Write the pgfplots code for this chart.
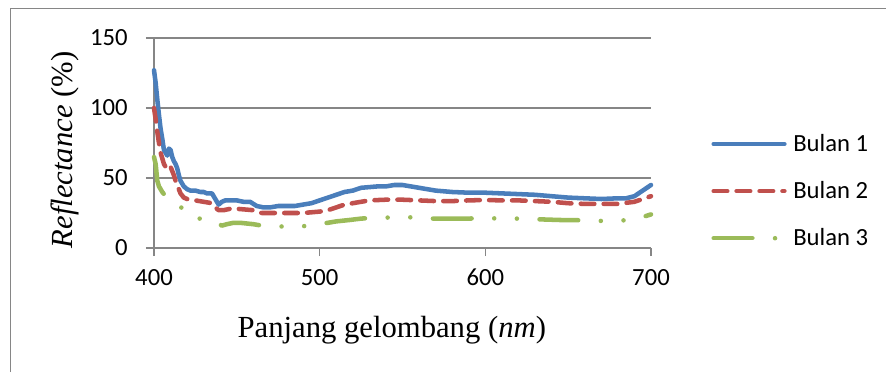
\documentclass[border=0pt]{standalone}
\usepackage{fontspec}
\setmainfont{Liberation Serif}
\newfontfamily\calibri{Carlito}
\usepackage{pgfplots}
\pgfplotsset{compat=1.18}
\definecolor{cblue}{RGB}{74,126,187}
\definecolor{cred}{RGB}{192,80,77}
\definecolor{cgreen}{RGB}{155,187,89}
\definecolor{cgray}{RGB}{134,134,134}
\begin{document}
\begin{tikzpicture}
\path[use as bounding box] (0pt,0pt) rectangle (664.5pt,279pt);
\draw[cgray, line width=1.1pt] (7.9pt,0pt) -- (7.9pt,272.6pt) -- (664.5pt,272.6pt);
\begin{axis}[
  at={(115.5pt,93pt)}, anchor=south west,
  scale only axis, width=372.75pt, height=157.5pt,
  xmin=400, xmax=700, ymin=0, ymax=150,
  xtick={400,500,600,700}, ytick={0,50,100,150},
  axis x line*=bottom, axis y line*=left,
  axis line style={cgray, line width=1pt, -},
  tick style={cgray, line width=1pt},
  tick align=outside, major tick length=6pt,
  ymajorgrids, grid style={cgray, line width=1pt},
  /pgf/number format/assume math mode=true,
  /pgf/number format/1000 sep={},
  ticklabel style={font=\calibri\fontsize{18.5}{22}\selectfont, inner sep=0pt},
  yticklabel style={anchor=east, xshift=-13.5pt},
  xticklabel style={anchor=north, yshift=-9.75pt},
  xlabel={Panjang gelombang (\textit{nm})},
  ylabel={\textit{Reflectance} (\%)},
  label style={font=\fontsize{23}{26}\selectfont, inner sep=0pt},
  xlabel style={at={(axis description cs:0.5,0)}, anchor=base, yshift=-67pt, xshift=-8pt},
  ylabel style={at={(axis description cs:0,0.467)}, anchor=base, yshift=60.75pt},
  legend style={at={(1.113,0.271)}, anchor=west, draw=none, fill=none,
    font=\calibri\fontsize{18.5}{22}\selectfont, row sep=21pt,
    nodes={inner sep=0pt}},
  legend cell align=left,
  legend image code/.code={\draw[#1] (0pt,0pt) -- (53pt,0pt); \path (58pt,0pt);},
  clip=false,
]
\addplot[cblue, line width=3.4pt, line cap=round, line join=round] coordinates {
(400,127) (401,118) (402,106) (403,95) (404,85) (405,78) (406,70) (407,68) (408,66)
(409,71) (410,70) (411,65) (412,62) (413,60) (414,57) (415,52) (416,48) (417,46)
(418,44) (420,42) (422,41) (425,41) (428,40) (430,40) (432,39) (435,39) (437,35)
(439,31) (441,33) (443,34) (446,34) (450,34) (454,33) (458,33) (462,30) (466,29)
(470,29) (475,30) (480,30) (485,30) (490,31) (495,32) (500,34) (505,36) (510,38)
(515,40) (520,41) (525,43) (530,43.5) (535,44) (540,44) (545,45) (550,45) (555,44)
(560,43) (565,42) (570,41) (575,40.5) (580,40) (590,39.5) (600,39.5) (610,39)
(620,38.5) (630,38) (640,37) (650,36) (660,35.5) (670,35) (680,35.5) (685,35.5)
(690,37) (695,41) (700,45)
};
\addlegendentry{Bulan 1}
\addplot[cred, line width=3.4pt, line cap=round, line join=round, dash pattern=on 10.2pt off 7pt] coordinates {
(400,100) (401,92) (402,83) (403,75) (404,68) (405,64) (406,60) (407,58) (408,57)
(409,56) (410,58) (411,55) (412,52) (413,48) (414,44) (415,42) (416,39) (418,36)
(420,35) (425,34) (430,33) (435,32) (437,29) (439,27) (442,27) (446,28) (450,28)
(455,27.5) (460,27) (465,25) (470,25) (480,25) (490,25) (500,26) (505,27) (510,29)
(515,31) (520,32) (525,33) (530,34) (540,34.5) (550,34.5) (560,34) (570,33.5)
(580,33.5) (590,34) (600,34.3) (610,34) (620,34) (630,33.5) (640,33) (650,32)
(660,31.5) (670,31.5) (680,31.5) (690,33) (695,35) (700,37)
};
\addlegendentry{Bulan 2}
\addplot[cgreen, line width=3.4pt, line cap=round, line join=round, dash pattern=on 29pt off 17pt on 0pt off 17pt on 0pt off 17pt] coordinates {
(400,65) (401,60) (402,48) (403,44) (405,40) (407,37) (410,35) (414,32) (418,27)
(422,22) (426,21) (430,21) (435,20) (438,18) (441,16) (444,17) (448,18) (452,18)
(456,17.5) (460,17) (465,16) (470,15.7) (475,15.5) (483,15) (490,15.5) (497,17)
(505,18) (510,19) (518,20) (525,21) (532,21.5) (540,21.7) (550,22) (560,21.8)
(568,21) (575,21) (582,21) (590,21) (600,21.5) (608,21) (620,21) (632,20.5)
(645,20) (659,19.8) (671,19.3) (685,19.8) (692,21) (700,24)
};
\addlegendentry{Bulan 3}
\end{axis}
\end{tikzpicture}
\end{document}
